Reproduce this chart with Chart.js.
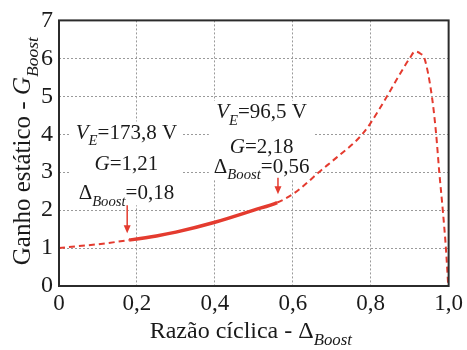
<!DOCTYPE html>
<html>
<head>
<meta charset="utf-8">
<script src="https://cdn.jsdelivr.net/npm/chart.js@4"></script>
<style>
  html, body { margin: 0; padding: 0; background: #fff; }
  #wrap { width: 467px; height: 350px; }
</style>
</head>
<body>
<div id="wrap"><canvas id="chart" width="467" height="350"></canvas></div>
<script>
// values
const dutyCycle = [0, 0.05, 0.1, 0.18, 0.25, 0.3, 0.4, 0.5, 0.56, 0.6, 0.64, 0.667, 0.7, 0.74, 0.76, 0.78, 0.8, 0.842, 0.87, 0.9, 0.914, 0.928, 0.938, 0.957, 0.968, 0.976, 0.985, 0.993, 0.999];
const gain = [1, 1.05, 1.1, 1.21, 1.32, 1.42, 1.68, 2.0, 2.2, 2.42, 2.75, 3.0, 3.28, 3.62, 3.8, 4.02, 4.3, 5.0, 5.5, 6.0, 6.18, 6.12, 6.0, 5.0, 4.0, 3.0, 2.0, 1.0, 0.0];
const xTickLabels = ["0", "0,2", "0,4", "0,6", "0,8", "1,0"];
const yTickLabels = ["0", "1", "2", "3", "4", "5", "6", "7"];
const solidRange = [0.18, 0.56];

// annotation texts (runs: text, italic, subscript) and arrows
const notes = [
  { group: 0, x: 0.173, y: 4.06, runs: [["V", 1, 0], ["E", 1, 1], ["=173,8 V", 0, 0]] },
  { group: 0, x: 0.173, y: 3.24, runs: [["G", 1, 0], ["=1,21", 0, 0]] },
  { group: 0, x: 0.173, y: 2.47, runs: [["Δ", 0, 0], ["Boost", 1, 1], ["=0,18", 0, 0]] },
  { group: 1, x: 0.52, y: 4.6, runs: [["V", 1, 0], ["E", 1, 1], ["=96,5 V", 0, 0]] },
  { group: 1, x: 0.52, y: 3.7, runs: [["G", 1, 0], ["=2,18", 0, 0]] },
  { group: 1, x: 0.52, y: 3.16, runs: [["Δ", 0, 0], ["Boost", 1, 1], ["=0,56", 0, 0]] }
];
const arrows = [
  { x: 0.175, from: 2.13, to: 1.39 },
  { x: 0.562, from: 2.85, to: 2.42 }
];

const RED = "#e43b2f";
const SERIF = "Liberation Serif";

function runFont(r, size) {
  const s = Math.round((r[2] ? size * 0.7 : size) * 10) / 10;
  return (r[1] ? "italic " : "") + s + "px '" + SERIF + "'";
}
function runsWidth(ctx, runs, size) {
  let w = 0;
  for (const r of runs) { ctx.font = runFont(r, size); w += ctx.measureText(r[0]).width; }
  return w;
}
// draws runs centred on (cx, cy)
function drawRuns(ctx, runs, cx, cy, size) {
  const w = runsWidth(ctx, runs, size);
  let x = cx - w / 2;
  const base = cy + size * 0.33;
  ctx.textAlign = "left";
  ctx.textBaseline = "alphabetic";
  for (const r of runs) {
    ctx.font = runFont(r, size);
    ctx.fillText(r[0], x, base + (r[2] ? size * 0.3 : 0));
    x += ctx.measureText(r[0]).width;
  }
}

const inSolid = (c) => c.p0.parsed.x >= solidRange[0] - 1e-9 && c.p1.parsed.x <= solidRange[1] + 1e-9;

const decor = {
  id: "decor",
  beforeDatasetsDraw(chart) {
    const { ctx, scales: { x, y } } = chart;
    const size = 21;
    ctx.save();
    // white boxes behind each group of notes
    const boxes = {};
    for (const n of notes) {
      const cx = x.getPixelForValue(n.x), cy = y.getPixelForValue(n.y);
      const w = runsWidth(ctx, n.runs, size);
      const b = boxes[n.group] || (boxes[n.group] = { l: 1e9, r: -1e9, t: 1e9, b: -1e9 });
      b.l = Math.min(b.l, cx - w / 2 - 5);
      b.r = Math.max(b.r, cx + w / 2 + 5);
      b.t = Math.min(b.t, cy - size * 0.5);
      b.b = Math.max(b.b, cy + size * 0.62);
    }
    ctx.fillStyle = "#fff";
    for (const k in boxes) {
      const b = boxes[k];
      ctx.fillRect(b.l, b.t, b.r - b.l, b.b - b.t);
    }
    ctx.fillStyle = "#1a1a1a";
    for (const n of notes) {
      drawRuns(ctx, n.runs, x.getPixelForValue(n.x), y.getPixelForValue(n.y), size);
    }
    ctx.restore();
  },
  afterDatasetsDraw(chart) {
    const { ctx, chartArea: a, scales: { x, y } } = chart;
    ctx.save();
    // arrows
    ctx.strokeStyle = RED;
    ctx.fillStyle = RED;
    ctx.lineWidth = 1.5;
    for (const ar of arrows) {
      const px = x.getPixelForValue(ar.x);
      const y0 = y.getPixelForValue(ar.from), y1 = y.getPixelForValue(ar.to);
      ctx.beginPath();
      ctx.moveTo(px, y0);
      ctx.lineTo(px, y1 - 6);
      ctx.stroke();
      ctx.beginPath();
      ctx.moveTo(px - 3.5, y1 - 8);
      ctx.lineTo(px + 3.5, y1 - 8);
      ctx.lineTo(px, y1);
      ctx.closePath();
      ctx.fill();
    }
    // frame
    ctx.strokeStyle = "#2b2b2b";
    ctx.lineWidth = 2;
    ctx.strokeRect(a.left, a.top, a.right - a.left, a.bottom - a.top);
    ctx.restore();
  },
  afterDraw(chart) {
    const { ctx, chartArea: a } = chart;
    ctx.save();
    ctx.fillStyle = "#1a1a1a";
    // x title
    drawRuns(ctx, [["Razão cíclica - Δ", 0, 0], ["Boost", 1, 1]], (a.left + a.right) / 2 - 3, 330, 24);
    // y title
    ctx.translate(22, (a.top + a.bottom) / 2 - 2);
    ctx.rotate(-Math.PI / 2);
    drawRuns(ctx, [["Ganho estático - ", 0, 0], ["G", 1, 0], ["Boost", 1, 1]], 0, 0, 25);
    ctx.restore();
  }
};

const chart = new Chart(document.getElementById("chart"), {
  type: "line",
  data: {
    datasets: [{
      data: dutyCycle.map((d, i) => ({ x: d, y: gain[i] })),
      borderColor: RED,
      borderWidth: 2,
      borderDash: [6, 4],
      pointRadius: 0,
      fill: false,
      cubicInterpolationMode: "monotone",
      segment: {
        borderDash: (c) => (inSolid(c) ? [] : [6, 4]),
        borderWidth: (c) => (inSolid(c) ? 3.5 : 2)
      }
    }]
  },
  options: {
    responsive: false,
    animation: false,
    devicePixelRatio: 1,
    layout: { padding: { left: 0, right: 16, top: 14, bottom: 0 } },
    plugins: { legend: { display: false }, tooltip: { enabled: false } },
    scales: {
      x: {
        type: "linear",
        min: 0,
        max: 1,
        afterFit: (s) => { s.height = 64; },
        grid: { color: "#9a9a9a", lineWidth: 1, drawTicks: false },
        border: { display: false, dash: [2, 2] },
        ticks: {
          stepSize: 0.2,
          autoSkip: false,
          maxRotation: 0,
          padding: 4,
          color: "#1a1a1a",
          font: { family: "'" + SERIF + "'", size: 23 },
          callback: (v, i) => xTickLabels[i]
        }
      },
      y: {
        min: 0,
        max: 7,
        afterFit: (s) => { s.width = 59; },
        grid: { color: "#9a9a9a", lineWidth: 1, drawTicks: false },
        border: { display: false, dash: [2, 2] },
        ticks: {
          stepSize: 1,
          padding: 6,
          color: "#1a1a1a",
          font: { family: "'" + SERIF + "'", size: 24 },
          callback: (v, i) => yTickLabels[i]
        }
      }
    }
  },
  plugins: [decor]
});
</script>
</body>
</html>
